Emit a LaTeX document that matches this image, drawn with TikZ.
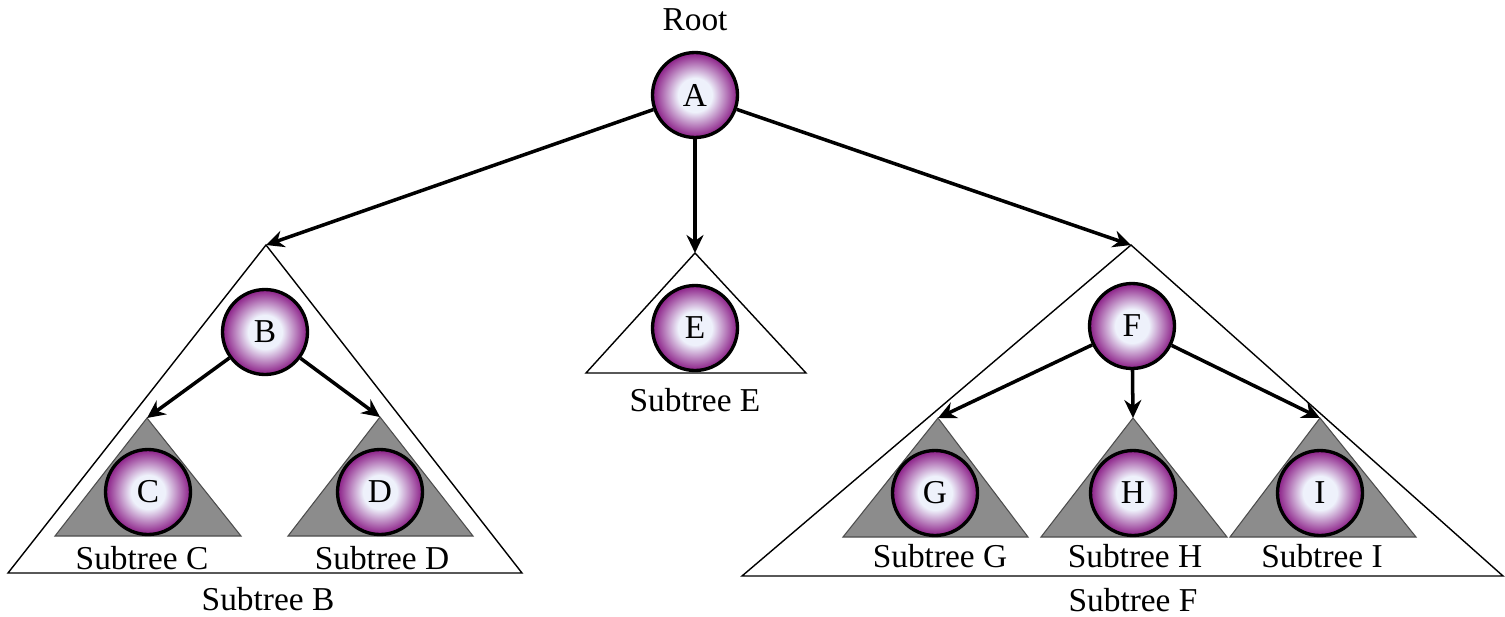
\documentclass[tikz,border=0pt]{standalone}
\usepackage{fontspec}
\setmainfont{Liberation Serif}
\usetikzlibrary{arrows.meta, positioning}
\definecolor{ballpurple}{RGB}{138,28,134}
\definecolor{ballcore}{RGB}{238,241,251}
\definecolor{subgray}{RGB}{140,140,140}
\pgfdeclareradialshading{ballshade}{\pgfpoint{0bp}{0bp}}{color(0bp)=(ballcore); color(10bp)=(ballcore); color(25bp)=(ballpurple); color(50bp)=(ballpurple)}

\begin{document}
\begin{tikzpicture}[
        x=0.02cm, y=-0.02cm,
        every node/.style={font=\fontsize{19}{22}\selectfont},
        ball/.style={circle, draw, line width=1.9pt, minimum size=1.7cm, inner sep=0pt, shading=ballshade},
        bigtri/.style={draw, line width=0.8pt, fill=white},
        subtri/.style={draw=black!70, line width=0.6pt, fill=subgray},
        lbl/.style={inner sep=0pt},
        arr/.style={-{Stealth[length=0.36cm, width=0.34cm]}, line width=2pt}
        ]
        \useasboundingbox (0,0) rectangle (1505,616);

        % Triangles
        \draw[bigtri] (266,245) coordinate (tB) -- (522,573) -- (8,573) -- cycle;
        \draw[bigtri] (695,253) coordinate (tE) -- (806,373) -- (586,373) -- cycle;
        \draw[bigtri] (1131,245) coordinate (tF) -- (1503,576) -- (742,576) -- cycle;
        \draw[subtri] (147,418) coordinate (tC) -- (241,536) -- (55,536) -- cycle;
        \draw[subtri] (380,417) coordinate (tD) -- (473,536) -- (288,536) -- cycle;
        \draw[subtri] (938,418) coordinate (tG) -- (1028,537) -- (843,537) -- cycle;
        \draw[subtri] (1133,418) coordinate (tH) -- (1227,537) -- (1041,537) -- cycle;
        \draw[subtri] (1320,418) coordinate (tI) -- (1416,537) -- (1230,537) -- cycle;

        % Nodes
        \node[ball] (A) at (695,95) {A};
        \node[ball] (B) at (265,332) {B};
        \node[ball] (E) at (695,328) {E};
        \node[ball] (F) at (1132,326) {F};
        \node[ball] (C) at (148,492) {C};
        \node[ball] (D) at (380,492) {D};
        \node[ball] (G) at (935,493) {G};
        \node[ball] (H) at (1133,493) {H};
        \node[ball] (I) at (1320,493) {I};

        % Labels
        \node[lbl] (root) at (695,20) {Root};
        \node[lbl] (labB) at (268,599) {Subtree B};
        \node[lbl] (labC) at (142,558) {Subtree C};
        \node[lbl] (labD) at (382,558) {Subtree D};
        \node[lbl] (labE) at (695,400) {Subtree E};
        \node[lbl] (labF) at (1133,600) {Subtree F};
        \node[lbl] (labG) at (940,556) {Subtree G};
        \node[lbl] (labH) at (1135,556) {Subtree H};
        \node[lbl] (labI) at (1322,556) {Subtree I};

        % Arrows
        \draw[arr] (A) -- (tB);
        \draw[arr] (A) -- (tE);
        \draw[arr] (A) -- (tF);
        \draw[arr] (B) -- (tC);
        \draw[arr] (B) -- (tD);
        \draw[arr] (F) -- (tG);
        \draw[arr] (F) -- (tH);
        \draw[arr] (F) -- (tI);

\end{tikzpicture}
\end{document}
